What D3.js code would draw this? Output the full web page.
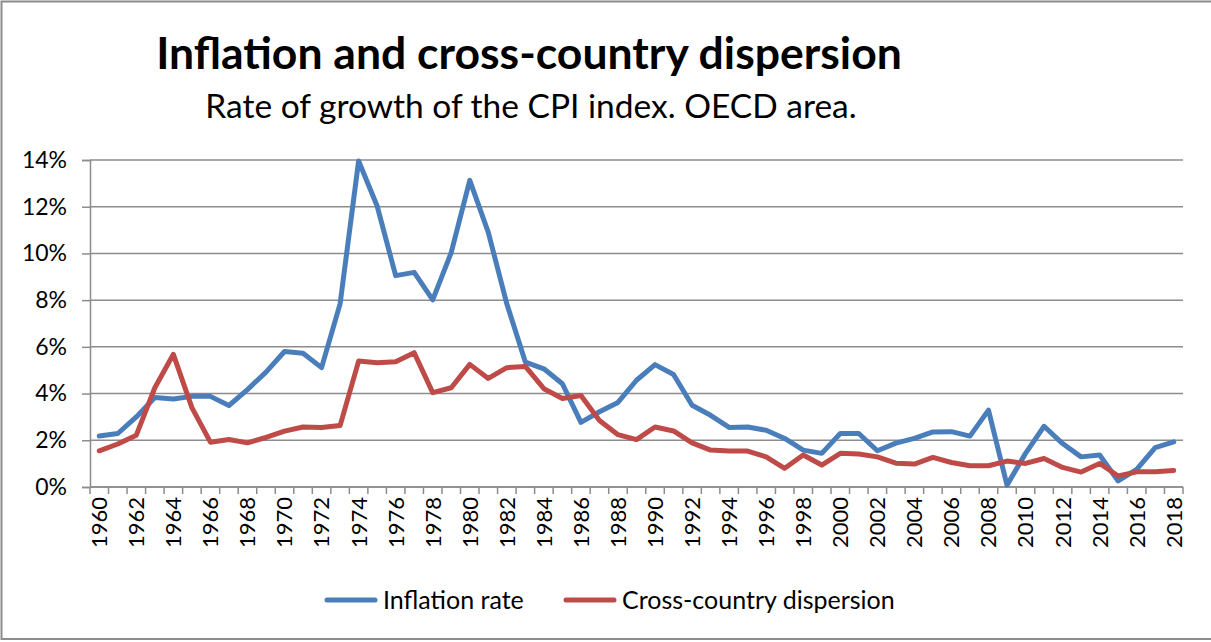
<!DOCTYPE html>
<html>
<head>
<meta charset="utf-8">
<script src="https://cdn.jsdelivr.net/npm/d3@7"></script>
<style>
	body { margin: 0; background: #fff; }
	svg text { font-family: Lato, "Open Sans", sans-serif; fill: #000; }
</style>
</head>
<body>
<div id="chart"></div>
<script>
(function() {

// years 1960..2018
const years = d3.range(1960, 2019);
const yTicks = [0, 0.02, 0.04, 0.06, 0.08, 0.10, 0.12, 0.14];

const inflation = [
	2.18, 2.29, 3.00, 3.83, 3.77, 3.88, 3.88, 3.49, 4.17, 4.92,
	5.80, 5.73, 5.11, 7.84, 13.96, 12.03, 9.05, 9.19, 8.01, 10.04,
	13.13, 10.90, 7.84, 5.35, 5.06, 4.42, 2.77, 3.22, 3.62, 4.57,
	5.24, 4.82, 3.50, 3.07, 2.55, 2.57, 2.43, 2.08, 1.58, 1.44,
	2.29, 2.29, 1.55, 1.88, 2.08, 2.36, 2.37, 2.18, 3.29, 0.08,
	1.44, 2.60, 1.86, 1.29, 1.37, 0.26, 0.75, 1.69, 1.93
];

const dispersion = [
	1.55, 1.84, 2.22, 4.25, 5.68, 3.40, 1.92, 2.03, 1.89, 2.12,
	2.39, 2.57, 2.55, 2.63, 5.39, 5.32, 5.36, 5.75, 4.04, 4.25,
	5.25, 4.65, 5.11, 5.16, 4.21, 3.79, 3.92, 2.85, 2.24, 2.03,
	2.57, 2.40, 1.89, 1.58, 1.54, 1.54, 1.29, 0.80, 1.37, 0.94,
	1.44, 1.41, 1.29, 1.02, 0.98, 1.27, 1.05, 0.91, 0.91, 1.11,
	1.01, 1.22, 0.84, 0.64, 1.01, 0.47, 0.65, 0.65, 0.71
];

const series = [
	{ name: "Inflation rate", values: inflation, color: "#4a7ebb" },
	{ name: "Cross-country dispersion", values: dispersion, color: "#be4b48" }
];

var width = 1211, height = 642;
var margin = { left: 90, right: 28, top: 160, bottom: 155 };

const svg = d3.select("#chart").append("svg")
	.attr("width", width)
	.attr("height", height);

// outer chart border
svg.append("rect")
	.attr("x", 1.5).attr("y", 1.5)
	.attr("width", width + 10).attr("height", 637.5)
	.attr("fill", "none")
	.attr("stroke", "#8c8c8c")
	.attr("stroke-width", 2);

const x = d3.scaleBand()
	.domain(years)
	.range([margin.left, width - margin.right]);

const y = d3.scaleLinear()
	.domain([0, 0.14])
	.range([height - margin.bottom, margin.top]);

// gridlines
svg.append("g")
	.selectAll("line")
	.data(yTicks)
	.enter().append("line")
	.attr("x1", margin.left).attr("x2", width - margin.right)
	.attr("y1", function(d) { return y(d); })
	.attr("y2", function(d) { return y(d); })
	.attr("stroke", "#8c8c8c")
	.attr("stroke-width", 1.5);

// y axis
const yAxis = svg.append("g")
	.attr("transform", "translate(" + margin.left + ",0)")
	.call(d3.axisLeft(y).tickValues(yTicks).tickFormat(d3.format(".0%")).tickSize(8).tickPadding(15));
yAxis.select(".domain").attr("stroke", "#8c8c8c").attr("stroke-width", 1.5);
yAxis.selectAll(".tick line").attr("stroke", "#8c8c8c").attr("stroke-width", 1.5);
yAxis.selectAll("text").style("font-size", "23px");

// x axis: ticks between categories
const xg = svg.append("g")
	.attr("transform", "translate(0," + y(0) + ")");
xg.append("line")
	.attr("x1", margin.left).attr("x2", width - margin.right)
	.attr("stroke", "#8c8c8c").attr("stroke-width", 1.5);
xg.selectAll("line.tk")
	.data(years.concat([2019]))
	.enter().append("line")
	.attr("class", "tk")
	.attr("x1", function(d) { return d === 2019 ? width - margin.right : x(d); })
	.attr("x2", function(d) { return d === 2019 ? width - margin.right : x(d); })
	.attr("y1", 0).attr("y2", 7)
	.attr("stroke", "#8c8c8c").attr("stroke-width", 1.5);
xg.selectAll("text")
	.data(years.filter(function(d) { return d % 2 === 0; }))
	.enter().append("text")
	.attr("transform", function(d) {
		return "translate(" + (x(d) + x.bandwidth() / 2) + ",10) rotate(-90)";
	})
	.attr("text-anchor", "end")
	.attr("dy", "0.36em")
	.style("font-size", "22px")
	.text(function(d) { return d; });

// lines
const line = d3.line()
	.x(function(d, i) { return x(years[i]) + x.bandwidth() / 2; })
	.y(function(d) { return y(d / 100); });

svg.selectAll("path.series")
	.data(series)
	.enter().append("path")
	.attr("class", "series")
	.attr("d", function(d) { return line(d.values); })
	.attr("fill", "none")
	.attr("stroke", function(d) { return d.color; })
	.attr("stroke-width", 5)
	.attr("stroke-linejoin", "round")
	.attr("stroke-linecap", "round");

// titles
svg.append("text")
	.attr("x", 529).attr("y", 69)
	.attr("text-anchor", "middle")
	.style("font-size", "44.5px").style("font-weight", "bold")
	.text("Inflation and cross-country dispersion");
svg.append("text")
	.attr("x", 531).attr("y", 118)
	.attr("text-anchor", "middle")
	.style("font-size", "33.5px")
	.text("Rate of growth of the CPI index. OECD area.");

// legend
const legendX = [327, 566];
const leg = svg.selectAll("g.legend")
	.data(series)
	.enter().append("g")
	.attr("class", "legend")
	.attr("transform", function(d, i) { return "translate(" + legendX[i] + ",600)"; });
leg.append("line")
	.attr("x1", 0).attr("x2", 48)
	.attr("stroke", function(d) { return d.color; })
	.attr("stroke-width", 5)
	.attr("stroke-linecap", "round");
leg.append("text")
	.attr("x", 56).attr("dy", "0.35em")
	.style("font-size", "25px")
	.text(function(d) { return d.name; });

})();
</script>
</body>
</html>
